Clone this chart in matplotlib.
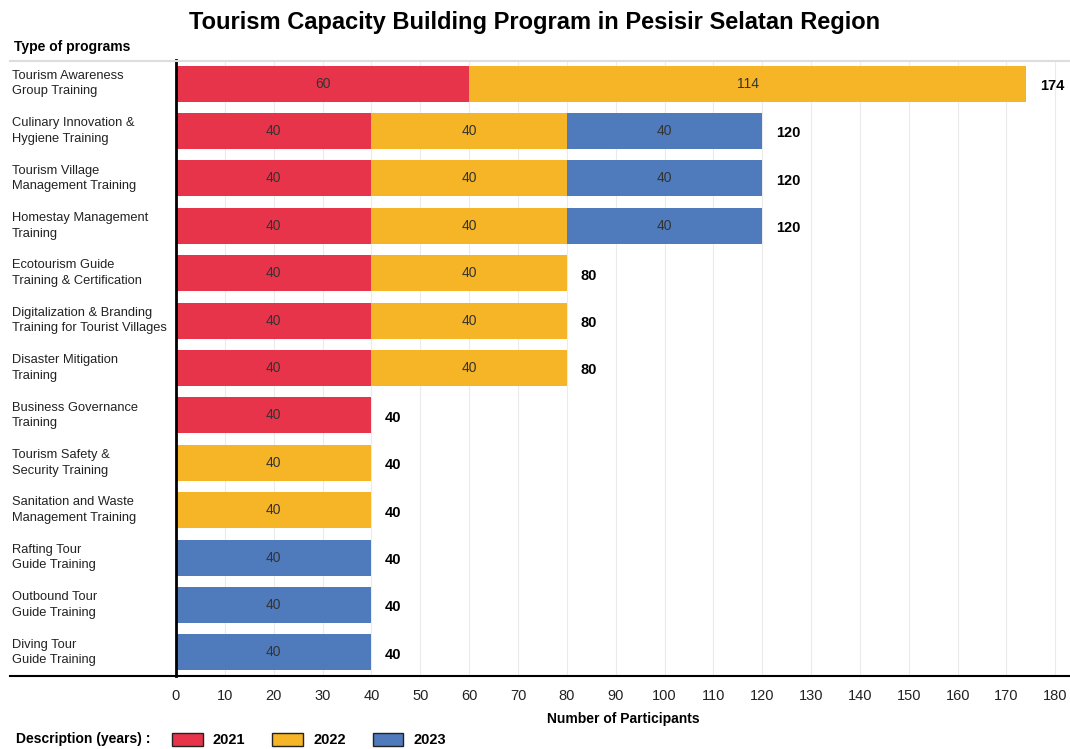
import matplotlib.pyplot as plt
import matplotlib.transforms as mtransforms
from matplotlib.lines import Line2D
from matplotlib.patches import Patch

plt.rcParams['font.family'] = ['Liberation Sans', 'DejaVu Sans']

programs = [
    "Tourism Awareness\nGroup Training",
    "Culinary Innovation &\nHygiene Training",
    "Tourism Village\nManagement Training",
    "Homestay Management\nTraining",
    "Ecotourism Guide\nTraining & Certification",
    "Digitalization & Branding\nTraining for Tourist Villages",
    "Disaster Mitigation\nTraining",
    "Business Governance\nTraining",
    "Tourism Safety &\nSecurity Training",
    "Sanitation and Waste\nManagement Training",
    "Rafting Tour\nGuide Training",
    "Outbound Tour\nGuide Training",
    "Diving Tour\nGuide Training",
]
v2021 = [60, 40, 40, 40, 40, 40, 40, 40, 0, 0, 0, 0, 0]
v2022 = [114, 40, 40, 40, 40, 40, 40, 0, 40, 40, 0, 0, 0]
v2023 = [0, 40, 40, 40, 0, 0, 0, 0, 0, 0, 40, 40, 40]
years = ["2021", "2022", "2023"]
colors = ["#E8344A", "#F6B526", "#4F7BBD"]

fig = plt.figure(figsize=(10.7, 7.49), dpi=100)
ax = fig.add_axes([176 / 1070, 1 - 676 / 749, (1070 - 176) / 1070, (676 - 60) / 749])

ypos = list(range(len(programs)))
left = [0] * len(programs)
for vals, col in zip([v2021, v2022, v2023], colors):
    bars = ax.barh(ypos, vals, left=left, height=0.76, color=col, zorder=2)
    for b, v in zip(bars, vals):
        if v > 0:
            ax.text(b.get_x() + v / 2, b.get_y() + b.get_height() / 2, str(v),
                    ha='center', va='center', fontsize=10, color='#333333', zorder=3)
    left = [l + v for l, v in zip(left, vals)]

for y, tot in zip(ypos, left):
    ax.text(tot + 2.8, y + 0.05, str(tot), ha='left', va='center',
            fontsize=10.5, fontweight='bold', color='black')

ax.set_xlim(0, 183)
ax.set_ylim(12.5, -0.5)
ax.set_xticks(range(0, 181, 10))
ax.set_yticks([])
ax.tick_params(axis='x', length=0, labelsize=10.5, pad=9, colors='#222222')
ax.grid(axis='x', color='#EBEBEB', linewidth=0.8, zorder=0)
for s in ['top', 'right', 'bottom']:
    ax.spines[s].set_visible(False)
ax.spines['left'].set_linewidth(2)
ax.set_xlabel("Number of Participants", fontsize=10, fontweight='bold', labelpad=7)

# row labels: figure x, data y
trans = mtransforms.blended_transform_factory(fig.transFigure, ax.transData)
for y, name in zip(ypos, programs):
    ax.text(12 / 1070, y, name, transform=trans, fontsize=9.3, ha='left',
            va='center', color='#222222', linespacing=1.4)

# horizontal rules across the figure
fig.add_artist(Line2D([10 / 1070, 1], [1 - 61 / 749] * 2, color='#DDDDDD', linewidth=1.5))
fig.add_artist(Line2D([10 / 1070, 1], [1 - 676 / 749] * 2, color='black', linewidth=1.5))

fig.text(0.5, 1 - 22 / 749, "Tourism Capacity Building Program in Pesisir Selatan Region",
         ha='center', va='center', fontsize=17, fontweight='bold')
fig.text(14 / 1070, 1 - 47 / 749, "Type of programs", ha='left', va='center',
         fontsize=10, fontweight='bold')

fig.text(16 / 1070, 1 - 739 / 749, "Description (years) :", ha='left', va='center',
         fontsize=10, fontweight='bold')
handles = [Patch(facecolor=c, edgecolor='#222222', linewidth=1) for c in colors]
fig.legend(handles, years, loc='center left', bbox_to_anchor=(172 / 1070, 1 - 740 / 749),
           ncol=3, frameon=False, handlelength=2.1, handleheight=1.0, columnspacing=1.85,
           prop={'weight': 'bold', 'size': 10.5}, handletextpad=0.7, borderaxespad=0,
           borderpad=0)

fig.savefig("out.png", dpi=100)
